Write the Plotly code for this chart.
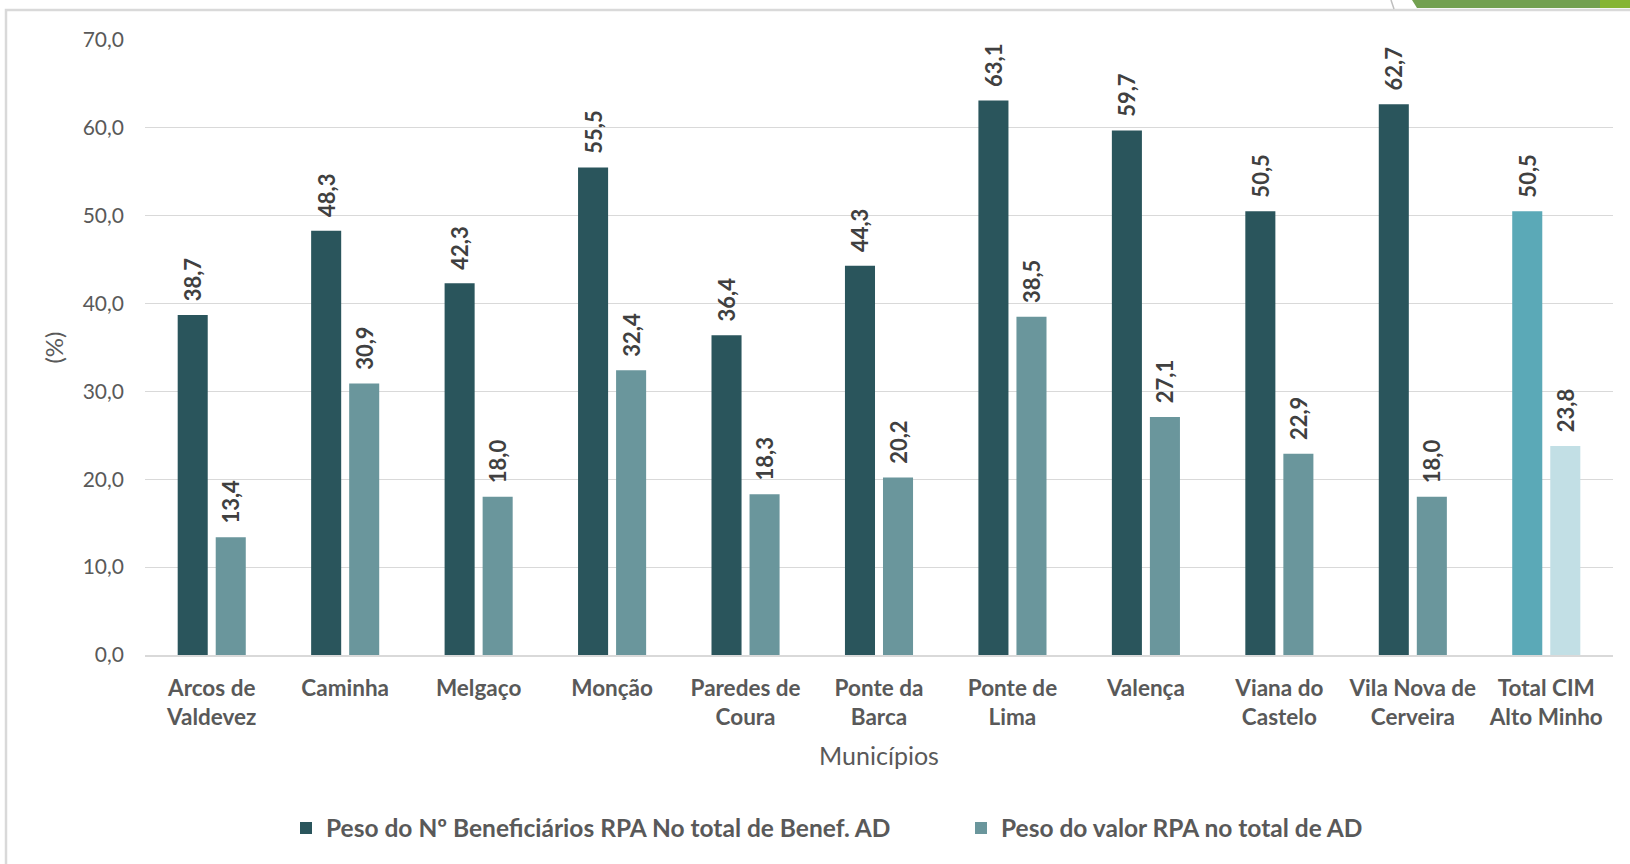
import plotly.graph_objects as go

categories = ["Arcos de<br>Valdevez", "Caminha", "Melgaço", "Monção", "Paredes de<br>Coura",
              "Ponte da<br>Barca", "Ponte de<br>Lima", "Valença", "Viana do<br>Castelo",
              "Vila Nova de<br>Cerveira", "Total CIM<br>Alto Minho"]
peso_benef = [38.7, 48.3, 42.3, 55.5, 36.4, 44.3, 63.1, 59.7, 50.5, 62.7, 50.5]
peso_valor = [13.4, 30.9, 18.0, 32.4, 18.3, 20.2, 38.5, 27.1, 22.9, 18.0, 23.8]
series_names = ["Peso do Nº Beneficiários RPA No total de Benef. AD",
                "Peso do valor RPA no total de AD"]
y_ticks = [0, 10, 20, 30, 40, 50, 60, 70]

W, H = 1630, 864
L, R, T, B = 145, 17, 40, 209
pw, ph = W - L - R, H - T - B


def px_x(x):
    return (x - L) / pw


def px_y(y):
    return 1 - (y - T) / ph


FONT = "Lato"
DARK, LIGHT = "#2A555C", "#6A969C"
TDARK, TLIGHT = "#5BA9B7", "#C2DFE5"
n = len(categories)
c1 = [DARK] * (n - 1) + [TDARK]
c2 = [LIGHT] * (n - 1) + [TLIGHT]
PAD = "\u00a0\u00a0"

fig = go.Figure()
for vals, cols, name in [(peso_benef, c1, series_names[0]), (peso_valor, c2, series_names[1])]:
    fig.add_trace(go.Bar(
        x=categories, y=vals, name=name,
        marker=dict(color=cols, line=dict(width=0)),
        text=[PAD + f"{v:.1f}".replace(".", ",") for v in vals],
        textposition="outside", textangle=-90, constraintext="none",
        textfont=dict(family=FONT, size=22, color="#404040", weight="bold"),
        cliponaxis=False,
    ))

fig.update_layout(
    width=W, height=H,
    margin=dict(l=L, r=R, t=T, b=B, autoexpand=False),
    paper_bgcolor="white", plot_bgcolor="white",
    barmode="group", bargap=0.43, bargroupgap=0.21,
    separators=",.",
    font=dict(family=FONT, color="#595959"),
    showlegend=True,
    legend=dict(orientation="h", x=px_x(286), xanchor="left", y=px_y(828), yanchor="middle",
                font=dict(family=FONT, size=24.5, color="#595959", weight="bold"),
                itemwidth=30, traceorder="normal", entrywidth=630, entrywidthmode="pixels"),
    xaxis=dict(
        showline=True, linecolor="#D9D9D9", linewidth=1.5, ticks="", ticklabelstandoff=12,
        tickfont=dict(family=FONT, size=22.5, color="#595959", weight="bold"),
        title=dict(text="Municípios", font=dict(family=FONT, size=25, color="#595959"), standoff=18),
    ),
    yaxis=dict(
        range=[0, 70], tickvals=y_ticks, tickformat=".1f",
        showgrid=True, gridcolor="#D9D9D9", gridwidth=1, zeroline=False,
        tickfont=dict(family=FONT, size=21, color="#595959"), ticks="", ticklabelstandoff=20,
        title=dict(text="(%)", font=dict(family=FONT, size=24, color="#595959"), standoff=12),
    ),
    shapes=[
        dict(type="rect", xref="paper", yref="paper",
             x0=px_x(6), x1=px_x(1700), y0=px_y(1000), y1=px_y(10),
             line=dict(color="#D9D9D9", width=2.5), fillcolor="rgba(0,0,0,0)", layer="below"),
        dict(type="path", xref="paper", yref="paper",
             path=f"M {px_x(1412)},{px_y(0)} L {px_x(1600)},{px_y(0)} L {px_x(1600)},{px_y(8)} L {px_x(1417)},{px_y(8)} Z",
             fillcolor="#72A050", line=dict(width=0)),
        dict(type="path", xref="paper", yref="paper",
             path=f"M {px_x(1600)},{px_y(0)} L {px_x(1632)},{px_y(0)} L {px_x(1632)},{px_y(8)} L {px_x(1600)},{px_y(8)} Z",
             fillcolor="#86B534", line=dict(width=0)),
        dict(type="line", xref="paper", yref="paper",
             x0=px_x(1391), x1=px_x(1394), y0=px_y(0), y1=px_y(9),
             line=dict(color="#BFBFBF", width=1.5)),
    ],
)

fig.write_html("out.html", config={"displayModeBar": False},
               post_script="document.body.style.margin='0';document.body.style.overflow='hidden';")
